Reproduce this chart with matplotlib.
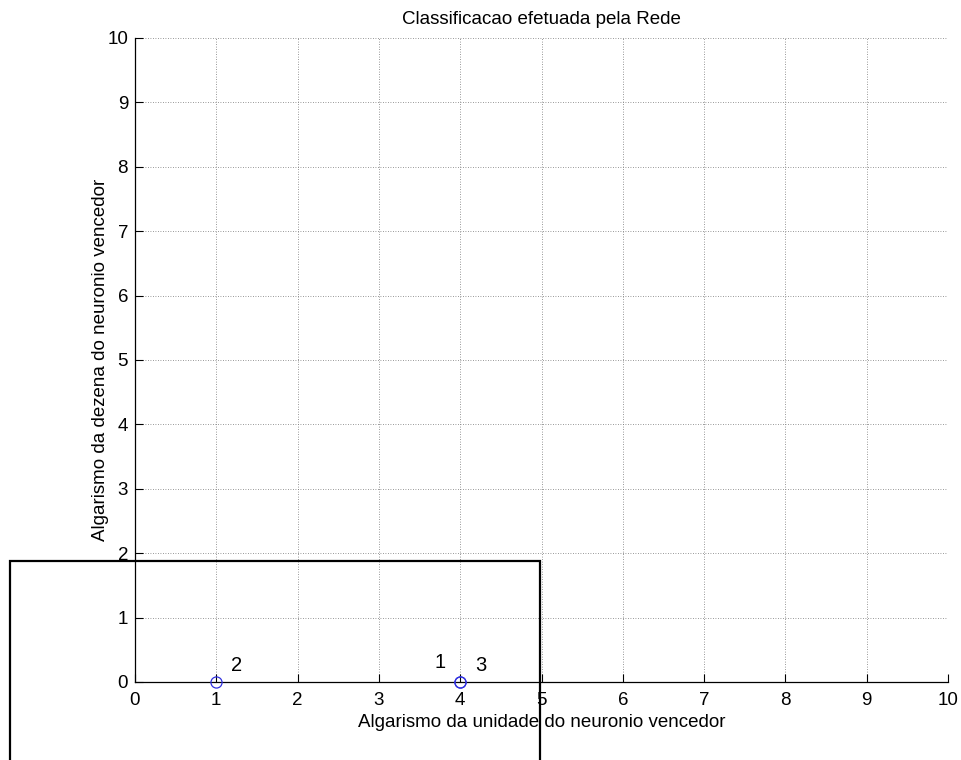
import matplotlib
matplotlib.use("Agg")
import matplotlib.pyplot as plt
from matplotlib.patches import Rectangle

plt.rcParams['font.family'] = ['Liberation Sans', 'DejaVu Sans']

# data
unit_digit = [4, 1, 4]
ten_digit = [0, 0, 0]
labels = ['1', '2', '3']
label_dx = [-0.32, 0.18, 0.18]
label_dy = [0.3, 0.25, 0.25]
ticks = list(range(0, 11))

fig = plt.figure(figsize=(9.62, 7.6), dpi=100)
ax = fig.add_axes([135/962, 78/760, (948-135)/962, (682-38)/760])

ax.plot(unit_digit, ten_digit, 'o', mfc='none', mec='#3030e0', ms=8, mew=0.9,
        clip_on=False, zorder=5)
for x, y, t, dx, dy in zip(unit_digit, ten_digit, labels, label_dx, label_dy):
    ax.text(x + dx, y + dy, t, fontsize=14.5, ha='left', va='center')

ax.set_xlim(0, 10)
ax.set_ylim(0, 10)
ax.set_xticks(ticks)
ax.set_yticks(ticks)
ax.grid(True, linestyle=(0, (1, 2)), color='#777777', linewidth=0.6)
for s in ['top', 'right']:
    ax.spines[s].set_visible(False)
for s in ['left', 'bottom']:
    ax.spines[s].set_linewidth(0.9)
ax.tick_params(direction='in', length=6, labelsize=13.5)
ax.tick_params(axis='x', pad=7)
ax.tick_params(axis='y', pad=5)
ax.set_title('Classificacao efetuada pela Rede', fontsize=13.5, pad=10)
ax.set_xlabel('Algarismo da unidade do neuronio vencedor', fontsize=13.5, labelpad=4)
ax.set_ylabel('Algarismo da dezena do neuronio vencedor', fontsize=13.5, labelpad=-1)

fig.patches.append(Rectangle((10/962, -0.1), (540-10)/962, 0.1 + (760-561)/760,
                             transform=fig.transFigure, fill=False,
                             edgecolor='black', linewidth=1.6, zorder=10))

fig.savefig('out.png', dpi=100)
